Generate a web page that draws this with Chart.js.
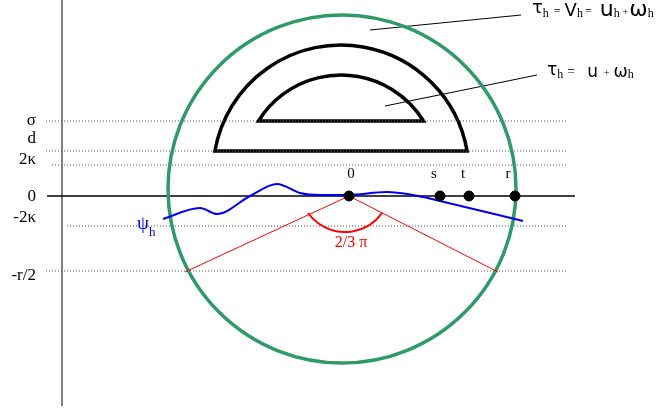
<!DOCTYPE html>
<html>
<head>
<meta charset="utf-8">
<script src="https://cdn.jsdelivr.net/npm/chart.js@4"></script>
<style>
  html, body { margin: 0; padding: 0; background: #fff; }
  #diagram { display: block; }
</style>
</head>
<body>
<canvas id="diagram" width="658" height="413"></canvas>
<script>
// Diagram units: origin on the point "0", y pointing up, 1 unit = 1 px

// Left tick labels and the dotted levels
const tickLabels = ["σ", "d", "2κ", "0", "-2κ", "-r/2"];
const tickY = [75, 57, 36, -1, -22, -80];
const levelY = [75, 45, 31, -30, -75];
const levelStartX = [-303, -303, -297, -282, -303];
const levelEndX = [217, 217, 217, 217, 217];

// Blue curve psi_h
const psiX = [-186, -149, -132, -99, -72, -49, -29, -2, 38, 64, 91, 174];
const psiY = [-23, -12, -18, 0, 12, 3, 1, 1, 4, 1, -5, -25];

// Points on the axis
const markerNames = ["0", "s", "t", "r"];
const markerX = [0, 91, 120, 166];
const markerLabelX = [2, 85, 114, 159];

// Green circle: centre x, centre y, radius
const circleX = [-7];
const circleY = [7];
const circleR = [174];

// Black domes (circle segments cut by a level)
const domeCenterX = [-8, -8];
const domeCenterY = [23, 24];
const domeRadius = [128, 97];
const domeBaseY = [45, 75];

// Red rays from the origin and the 2/3 pi arc
const rayEndX = [-164, 149];
const rayEndY = [-76, -76];
const angleArcCenter = [-4, 9.5];
const angleArcRadius = [45.5];
const angleArcDegrees = [35.6, 144.4];

// Leader lines to the formulas
const leaderX = [[21, 172], [36, 188]];
const leaderY = [[166, 181], [90, 121]];

const GREEN = "#2e9a68";
const SERIF = '"Liberation Serif", "DejaVu Serif", serif';
const SANS = '"DejaVu Sans", sans-serif';

/**
 * Dataset for a simple polyline
 */
function polyline(xs, ys, color, width, dash) {
    return {
        type: "line",
        data: xs.map((x, i) => ({ x, y: ys[i] })),
        borderColor: color,
        borderWidth: width,
        borderDash: dash || [],
        pointRadius: 0,
        fill: false,
        tension: 0,
        clip: false,
    };
}

/**
 * Draw a row of text pieces: [text, family, size, dy, gapBefore]
 */
function drawRuns(ctx, x, y, runs, color) {
    ctx.fillStyle = color;
    ctx.textAlign = "left";
    ctx.textBaseline = "alphabetic";
    runs.forEach(([text, family, size, dy, gap]) => {
        x += gap || 0;
        ctx.font = `${size}px ${family}`;
        ctx.fillText(text, x, y + dy);
        x += ctx.measureText(text).width;
    });
}

const diagramPlugin = {
    id: "diagram",
    beforeDatasetsDraw(chart) {
        const { ctx, scales: { x, y } } = chart;
        const unit = x.getPixelForValue(1) - x.getPixelForValue(0);

        // Black domes
        ctx.save();
        ctx.strokeStyle = "#000";
        ctx.lineWidth = 3.5;
        ctx.lineJoin = "miter";
        domeRadius.forEach((r, i) => {
            const cx = x.getPixelForValue(domeCenterX[i]);
            const cy = y.getPixelForValue(domeCenterY[i]);
            const by = y.getPixelForValue(domeBaseY[i]);
            const R = r * unit;
            const a = Math.asin((by - cy) / R);
            ctx.beginPath();
            ctx.arc(cx, cy, R, Math.PI - a, 2 * Math.PI + a, false);
            ctx.closePath();
            ctx.stroke();
        });
        ctx.restore();
    },
    afterDatasetsDraw(chart) {
        const { ctx, scales: { x, y } } = chart;
        const unit = x.getPixelForValue(1) - x.getPixelForValue(0);
        ctx.save();

        // 2/3 pi arc
        ctx.strokeStyle = "#ff0000";
        ctx.lineWidth = 2;
        ctx.beginPath();
        ctx.arc(
            x.getPixelForValue(angleArcCenter[0]),
            y.getPixelForValue(angleArcCenter[1]),
            angleArcRadius[0] * unit,
            (angleArcDegrees[0] * Math.PI) / 180,
            (angleArcDegrees[1] * Math.PI) / 180,
            false
        );
        ctx.stroke();

        // Left tick labels
        ctx.fillStyle = "#000";
        ctx.font = `17px ${SERIF}`;
        ctx.textAlign = "right";
        ctx.textBaseline = "middle";
        tickLabels.forEach((label, i) => {
            ctx.fillText(label, x.getPixelForValue(-313), y.getPixelForValue(tickY[i]));
        });

        // Point labels
        ctx.font = `15px ${SERIF}`;
        ctx.textAlign = "center";
        ctx.textBaseline = "alphabetic";
        markerNames.forEach((name, i) => {
            ctx.fillText(name, x.getPixelForValue(markerLabelX[i]), y.getPixelForValue(18));
        });

        // Angle label
        ctx.fillStyle = "#ff0000";
        ctx.font = `16px ${SERIF}`;
        ctx.fillText("2/3 π", x.getPixelForValue(2), y.getPixelForValue(-51));

        // psi_h label
        drawRuns(ctx, x.getPixelForValue(-212), y.getPixelForValue(-33),
            [["ψ", SERIF, 19, 0], ["h", SERIF, 13, 7]], "#0000ff");

        // Formulas
        drawRuns(ctx, x.getPixelForValue(183), y.getPixelForValue(180), [
            ["τ", SANS, 18, -3], ["h", SERIF, 12, 1], ["=", SERIF, 12, -1, 5],
            ["V", SANS, 18, 0, 4], ["h", SERIF, 12, 1], ["=", SERIF, 12, -1, 2],
            ["u", SANS, 22, 0, 8], ["h", SERIF, 12, 1], ["+", SERIF, 10, -1, 3],
            ["ω", SANS, 22, 0, 1], ["h", SERIF, 12, 1],
        ], "#000");
        drawRuns(ctx, x.getPixelForValue(198), y.getPixelForValue(119), [
            ["τ", SANS, 17, -2], ["h", SERIF, 12, 1], ["=", SERIF, 14, -1, 4],
            ["u", SANS, 17, 0, 12], ["+", SERIF, 10, -1, 6],
            ["ω", SANS, 17, 0, 4], ["h", SERIF, 12, 1],
        ], "#000");

        ctx.restore();
    },
};

// First dataset is drawn on top
const datasets = [];
datasets.push({
    type: "scatter",
    data: markerX.map((mx) => ({ x: mx, y: 0 })),
    backgroundColor: "#000",
    borderColor: "#000",
    pointRadius: 5,
    clip: false,
});
rayEndX.forEach((ex, i) => datasets.push(polyline([0, ex], [0, rayEndY[i]], "#ff0000", 1)));
datasets.push({
    ...polyline(psiX, psiY, "#0000ee", 2),
    cubicInterpolationMode: "monotone",
});
datasets.push({
    type: "bubble",
    data: circleX.map((cx, i) => ({ x: cx, y: circleY[i], r: circleR[i] })),
    backgroundColor: "rgba(0,0,0,0)",
    borderColor: GREEN,
    borderWidth: 3.5,
    clip: false,
});
leaderX.forEach((lx, i) => datasets.push(polyline(lx, leaderY[i], "#000", 1)));
datasets.push(polyline([-302, 226], [0, 0], "#000", 1.5));
datasets.push(polyline([-287, -287], [196, -210], "#555", 1.5));
levelY.forEach((ly, i) =>
    datasets.push(polyline([levelStartX[i], levelEndX[i]], [ly, ly], "#555", 1, [1, 2]))
);

new Chart(document.getElementById("diagram").getContext("2d"), {
    type: "scatter",
    data: { datasets },
    options: {
        responsive: false,
        animation: false,
        events: [],
        layout: { padding: 0, autoPadding: false },
        plugins: { legend: { display: false }, tooltip: { enabled: false } },
        scales: {
            x: { type: "linear", min: -349, max: 309, display: false },
            y: { type: "linear", min: -217, max: 196, display: false },
        },
    },
    plugins: [diagramPlugin],
});
</script>
</body>
</html>
